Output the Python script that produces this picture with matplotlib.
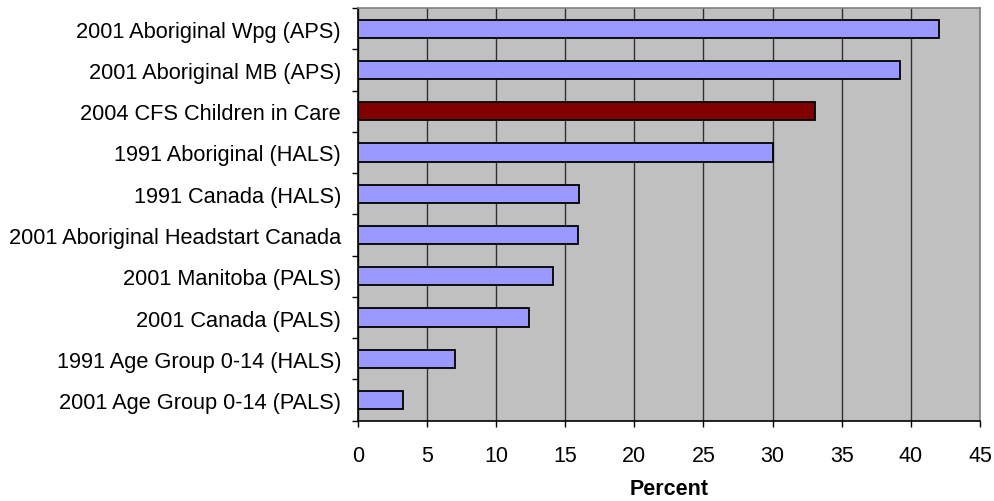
import matplotlib
matplotlib.use("Agg")
import matplotlib.pyplot as plt
import numpy as np

categories = [
    "2001 Aboriginal Wpg (APS)",
    "2001 Aboriginal MB (APS)",
    "2004 CFS Children in Care",
    "1991 Aboriginal (HALS)",
    "1991 Canada (HALS)",
    "2001 Aboriginal Headstart Canada",
    "2001 Manitoba (PALS)",
    "2001 Canada (PALS)",
    "1991 Age Group 0-14 (HALS)",
    "2001 Age Group 0-14 (PALS)",
]
values = [42.0, 39.2, 33.1, 30.0, 16.0, 15.9, 14.1, 12.4, 7.0, 3.3]
highlight = "2004 CFS Children in Care"
x_ticks = list(range(0, 50, 5))

plt.rcParams["font.family"] = ["Liberation Sans", "DejaVu Sans"]

fig = plt.figure(figsize=(9.95, 5.02), dpi=100)
ax = fig.add_axes([0.3595, 0.160, 0.6255, 0.822])
ax.set_facecolor("#C0C0C0")

n = len(categories)
pos = np.arange(n)[::-1]
colors = ["#800000" if c == highlight else "#9999FF" for c in categories]
ax.barh(pos, values, height=0.44, color=colors, edgecolor="black",
        linewidth=1.3, zorder=3)

ax.set_xlim(0, 45)
ax.set_ylim(-0.5, n - 0.5)
ax.set_xticks(x_ticks)
ax.set_xticklabels([str(t) for t in x_ticks], fontsize=15.5)
ax.tick_params(axis="x", direction="out", length=4.5, width=1, pad=13)

ax.set_yticks(pos)
ax.set_yticklabels(categories, fontsize=15.7)
ax.set_yticks(np.arange(-0.5, n, 1.0), minor=True)
ax.tick_params(axis="y", which="major", length=0, pad=12)
ax.tick_params(axis="y", which="minor", direction="out", length=4, width=1)

ax.xaxis.grid(True, color="black", linewidth=1.0, alpha=0.75, zorder=1)
ax.set_axisbelow(True)

for side in ("top", "right"):
    ax.spines[side].set_color("#808080")
    ax.spines[side].set_linewidth(1.2)
for side in ("left", "bottom"):
    ax.spines[side].set_color("black")
    ax.spines[side].set_linewidth(1.2)

ax.set_xlabel("Percent", fontsize=15.5, fontweight="bold", labelpad=9)

fig.savefig("out.png", dpi=100)
